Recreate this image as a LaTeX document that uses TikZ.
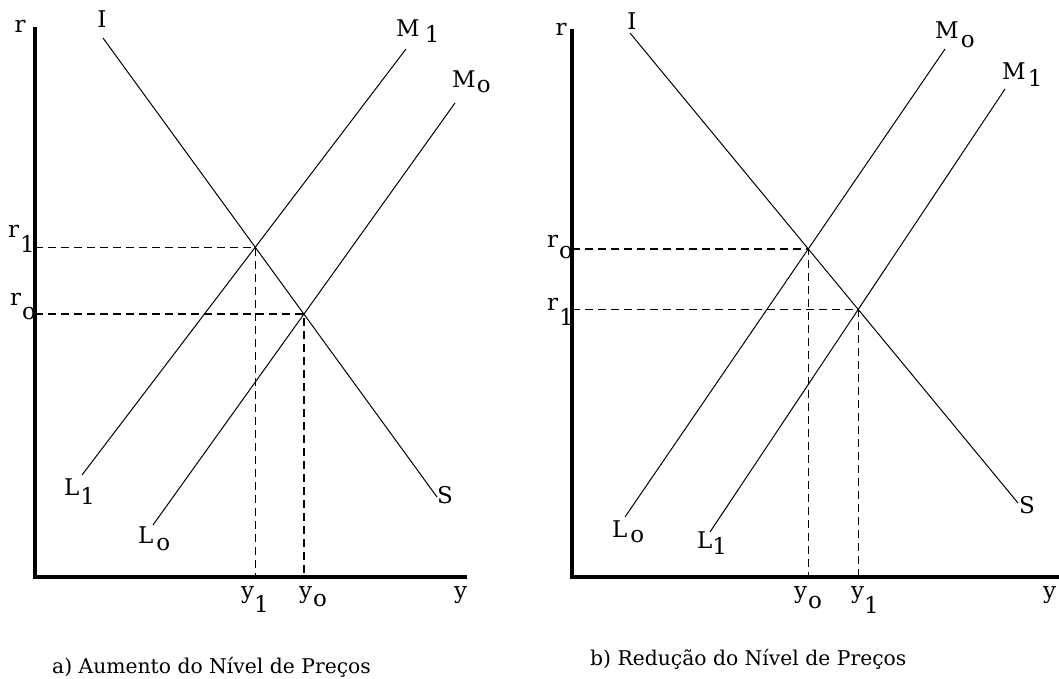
\documentclass[tikz,border=0pt]{standalone}
\usepackage{fontspec}
\setmainfont{DejaVu Serif}
\usetikzlibrary{intersections}
\newcommand{\labfont}{\fontsize{23}{27}\selectfont}
\newcommand{\capfont}{\fontsize{20.3}{24}\selectfont}
\newcommand{\sub}[2]{\raisebox{-#1pt}{#2}}
\begin{document}
\begin{tikzpicture}[x=1pt,y=-1pt,
  axis/.style={line width=3.5pt,line join=miter},
  curve/.style={line width=1pt},
  guide/.style={line width=1.3pt,dash pattern=on 8pt off 5pt},
  lab/.style={inner sep=0pt,anchor=base west,font=\labfont},
  captext/.style={inner sep=0pt,anchor=base west,font=\capfont}]
\useasboundingbox (0,0) rectangle (1059,679);
% ---------------- panel a ----------------
\coordinate (aTop) at (35,27);
\coordinate (aO) at (35,577);
\coordinate (aEnd) at (467,577);
\draw[axis] (aTop) -- (aO) -- (aEnd);
\coordinate (aIs) at (103,38);  \coordinate (aIe) at (437,497);
\coordinate (aL1) at (82,475);  \coordinate (aM1) at (406,49);
\coordinate (aL0) at (153,525); \coordinate (aM0) at (455,103);
\draw[curve,name path=aIS] (aIs) -- (aIe);
\draw[curve,name path=aLM1] (aL1) -- (aM1);
\draw[curve,name path=aLM0] (aL0) -- (aM0);
\path[name intersections={of=aIS and aLM1,by=aE1}];
\path[name intersections={of=aIS and aLM0,by=aE0}];
\draw[guide] (aO |- aE1) -- (aE1) -- (aE1 |- aO);
\draw[guide] (aO |- aE0) -- (aE0) -- (aE0 |- aO);
\node[lab,anchor=base] (ar) at (20,33) {r};
\node[lab,anchor=base] (aI) at (102,28) {I};
\node[lab] (aM1l) at (396,37) {M\kern5pt\sub{6}{1}};
\node[lab] (aM0l) at (452,88) {M\kern1pt\sub{5}{o}};
\node[lab] (ar1) at (8,237) {r\kern1pt\sub{15}{1}};
\node[lab] (ar0) at (10,305) {r\kern1pt\sub{14}{o}};
\node[lab] (aL1l) at (64,495) {L\kern1pt\sub{9}{1}};
\node[lab] (aL0l) at (138,543) {L\kern3pt\sub{7}{o}};
\node[lab] (aS) at (437,503) {S};
\node[lab] (ay1) at (241,598) {y\sub{14}{1}};
\node[lab] (ay0) at (299,598) {y\kern1pt\sub{8}{o}};
\node[lab] (ay) at (454,598) {y};
\node[captext] (acap) at (52,673) {a) Aumento do Nível de Preços};
% ---------------- panel b ----------------
\coordinate (bTop) at (572,29);
\coordinate (bO) at (572,577);
\coordinate (bEnd) at (1062,577);
\draw[axis] (bTop) -- (bO) -- (bEnd);
\coordinate (bIs) at (630,33);  \coordinate (bIe) at (1018,503);
\coordinate (bL0) at (625,517); \coordinate (bM0) at (945,49);
\coordinate (bL1) at (710,532); \coordinate (bM1) at (1005,89);
\draw[curve,name path=bIS] (bIs) -- (bIe);
\draw[curve,name path=bLM0] (bL0) -- (bM0);
\draw[curve,name path=bLM1] (bL1) -- (bM1);
\path[name intersections={of=bIS and bLM0,by=bE0}];
\path[name intersections={of=bIS and bLM1,by=bE1}];
\draw[guide] (bO |- bE0) -- (bE0) -- (bE0 |- bO);
\draw[guide] (bO |- bE1) -- (bE1) -- (bE1 |- bO);
\node[lab,anchor=base] (br) at (561,36) {r};
\node[lab,anchor=base] (bI) at (632,30) {I};
\node[lab] (bM0l) at (935,39) {M\kern2pt\sub{9}{o}};
\node[lab] (bM1l) at (1002,80) {M\kern2pt\sub{7}{1}};
\node[lab] (br0) at (547,247) {r\kern1pt\sub{11}{o}};
\node[lab] (br1) at (547,310) {r\kern1pt\sub{15}{1}};
\node[lab] (bL0l) at (612,537) {L\kern3pt\sub{5}{o}};
\node[lab] (bL1l) at (697,548) {L\sub{6}{1}};
\node[lab] (bS) at (1019,513) {S};
\node[lab] (by0) at (794,598) {y\kern1pt\sub{10}{o}};
\node[lab] (by1) at (851,598) {y\sub{15}{1}};
\node[lab] (by) at (1043,598) {y};
\node[captext] (bcap) at (590,665) {b) Redução do Nível de Preços};
\end{tikzpicture}
\end{document}
